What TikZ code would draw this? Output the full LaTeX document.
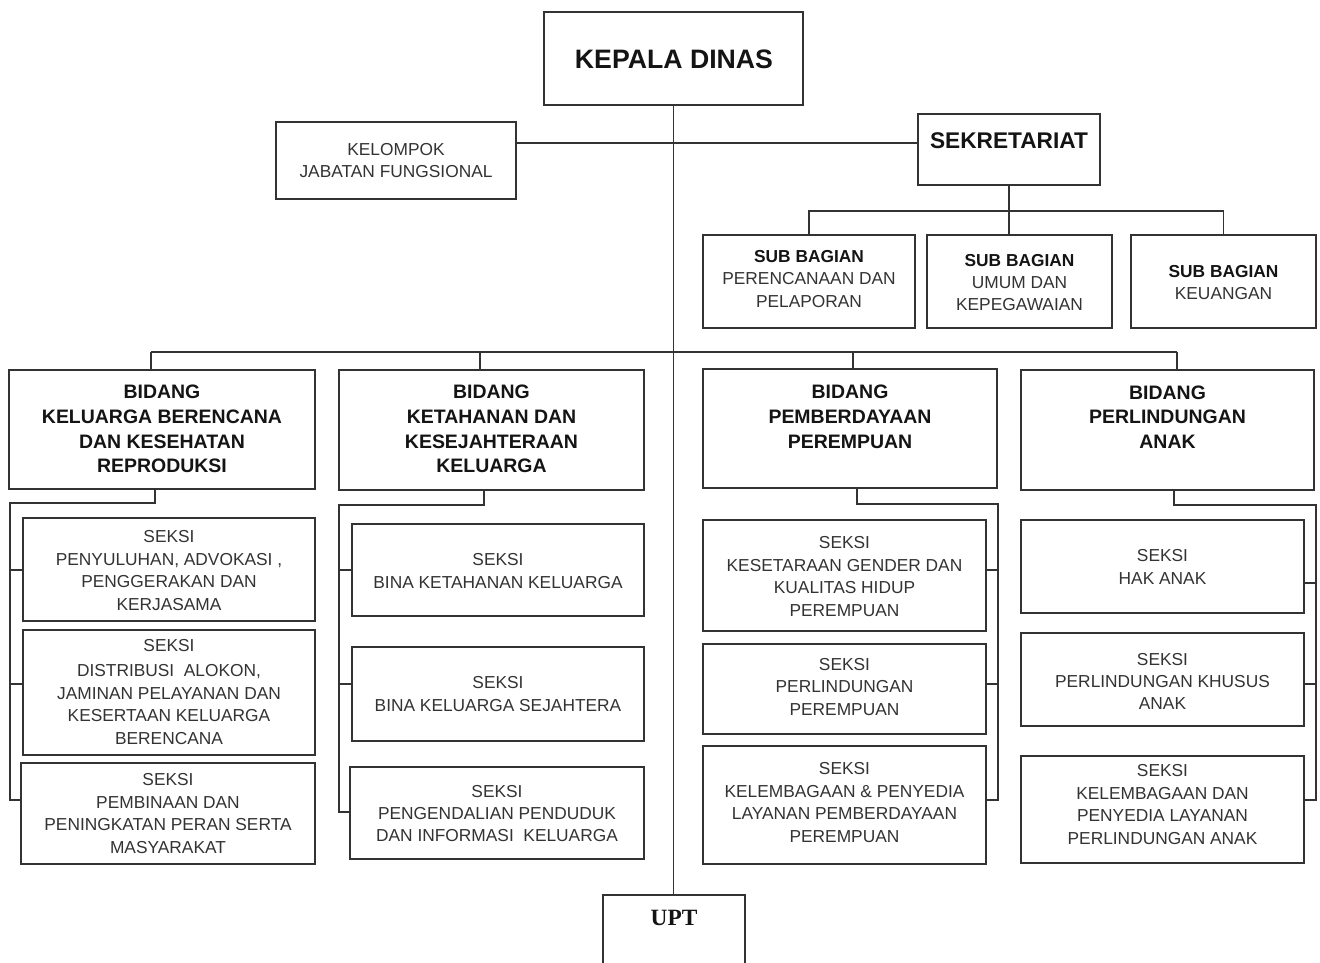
\documentclass[tikz,border=0pt]{standalone}
\usepackage{fontspec}
\setmainfont{Liberation Sans}
\newfontfamily\uptfont{Liberation Serif}
\usetikzlibrary{fit}
\begin{document}
\begin{tikzpicture}[x=0.75pt,y=-0.75pt,
  box/.style={draw=black!80, line width=1.3pt, inner sep=0pt},
  ln/.style={draw=black!80, line width=1.1pt},
  sm/.style={font=\fontsize{13}{16.8}\selectfont, align=center, text=black!80, inner sep=0pt},
  bd/.style={font=\bfseries\fontsize{14.6}{18.6}\selectfont, align=center, text=black!92, inner sep=0pt}]
\useasboundingbox (0,0) rectangle (1320,963);
\fill[white] (0,0) rectangle (1320,963);
\clip (0,0) rectangle (1320,963);

% ---------- boxes ----------
\node[box, fit={(544,12) (803,105)}] (kd) {};
\node[box, fit={(276,122) (516,199)}] (kjf) {};
\node[box, fit={(918,114) (1100,185)}] (sek) {};
\node[box, fit={(703,235) (915,328)}] (sb1) {};
\node[box, fit={(927,235) (1112,328)}] (sb2) {};
\node[box, fit={(1131,235) (1316,328)}] (sb3) {};

\node[box, fit={(9,370) (315,489)}] (b1) {};
\node[box, fit={(339,370) (644,490)}] (b2) {};
\node[box, fit={(703,369) (997,488)}] (b3) {};
\node[box, fit={(1021,370) (1314,490)}] (b4) {};

\node[box, fit={(23,518) (315,621)}] (s1a) {};
\node[box, fit={(23,630) (315,755)}] (s1b) {};
\node[box, fit={(21,763) (315,864)}] (s1c) {};

\node[box, fit={(352,524) (644,616)}] (s2a) {};
\node[box, fit={(352,647) (644,741)}] (s2b) {};
\node[box, fit={(350,767) (644,859)}] (s2c) {};

\node[box, fit={(703,520) (986,631)}] (s3a) {};
\node[box, fit={(703,644) (986,734)}] (s3b) {};
\node[box, fit={(703,746) (986,864)}] (s3c) {};

\node[box, fit={(1021,520) (1304,613)}] (s4a) {};
\node[box, fit={(1021,633) (1304,726)}] (s4b) {};
\node[box, fit={(1021,756) (1304,863)}] (s4c) {};

\node[box, fit={(603,895) (745,985)}] (upt) {};

% ---------- texts ----------
\node[font=\bfseries\fontsize{20}{24}\selectfont, text=black!92, inner sep=0pt] (tkd) at (674,59) {KEPALA DINAS};
\node[sm] (tkjf) at (396,160.5) {KELOMPOK\\JABATAN FUNGSIONAL};
\node[font=\bfseries\fontsize{17}{20}\selectfont, text=black!92, inner sep=0pt] (tsek) at (1009,141) {SEKRETARIAT};
\node[sm] (tsb1) at (809,279) {\textcolor{black!92}{\bfseries SUB BAGIAN}\\PERENCANAAN DAN\\PELAPORAN};
\node[sm] (tsb2) at (1019.5,282.5) {\textcolor{black!92}{\bfseries SUB BAGIAN}\\UMUM DAN\\KEPEGAWAIAN};
\node[sm] (tsb3) at (1223.5,282.5) {\textcolor{black!92}{\bfseries SUB BAGIAN}\\KEUANGAN};

\node[bd] (tb1) at (162,429) {BIDANG\\KELUARGA BERENCANA\\DAN KESEHATAN\\REPRODUKSI};
\node[bd] (tb2) at (491.5,429) {BIDANG\\KETAHANAN DAN\\KESEJAHTERAAN\\KELUARGA};
\node[bd] (tb3) at (850,417) {BIDANG\\PEMBERDAYAAN\\PEREMPUAN};
\node[bd] (tb4) at (1167.5,417) {BIDANG\\PERLINDUNGAN\\ANAK};

\node[sm] (ts1a) at (169,570.5) {SEKSI\\PENYULUHAN, ADVOKASI ,\\PENGGERAKAN DAN\\KERJASAMA};
\node[sm] (ts1b) at (169,692) {SEKSI\\[2pt]DISTRIBUSI\ \ ALOKON,\\JAMINAN PELAYANAN DAN\\KESERTAAN KELUARGA\\BERENCANA};
\node[sm] (ts1c) at (168,813.5) {SEKSI\\PEMBINAAN DAN\\PENINGKATAN PERAN SERTA\\MASYARAKAT};

\node[sm] (ts2a) at (498,571) {SEKSI\\BINA KETAHANAN KELUARGA};
\node[sm] (ts2b) at (498,694) {SEKSI\\BINA KELUARGA SEJAHTERA};
\node[sm] (ts2c) at (497,813.5) {SEKSI\\PENGENDALIAN PENDUDUK\\DAN INFORMASI\ \ KELUARGA};

\node[sm] (ts3a) at (844.5,576.5) {SEKSI\\KESETARAAN GENDER DAN\\KUALITAS HIDUP\\PEREMPUAN};
\node[sm] (ts3b) at (844.5,687) {SEKSI\\PERLINDUNGAN\\PEREMPUAN};
\node[sm] (ts3c) at (844.5,802.5) {SEKSI\\KELEMBAGAAN \& PENYEDIA\\LAYANAN PEMBERDAYAAN\\PEREMPUAN};

\node[sm] (ts4a) at (1162.5,567) {SEKSI\\HAK ANAK};
\node[sm] (ts4b) at (1162.5,681.5) {SEKSI\\PERLINDUNGAN KHUSUS\\ANAK};
\node[sm] (ts4c) at (1162.5,804.5) {SEKSI\\KELEMBAGAAN DAN\\PENYEDIA LAYANAN\\PERLINDUNGAN ANAK};

\node[font=\uptfont\bfseries\fontsize{17.5}{20}\selectfont, text=black!92, inner sep=0pt] (tupt) at (674,918) {UPT};

% ---------- helper coordinates ----------
\coordinate (h1) at (674,143);
\coordinate (hs) at (1009,211);
\coordinate (bus1) at (151,352);
\coordinate (bus2) at (480,352);
\coordinate (bus3) at (853,352);
\coordinate (bus4) at (1177,352);
\coordinate (c1top) at (155,503);
\coordinate (c1bus) at (10,503);
\coordinate (c2top) at (484,505);
\coordinate (c2bus) at (339,505);
\coordinate (c3top) at (857,504);
\coordinate (c3bus) at (998,504);
\coordinate (c4top) at (1174,505);
\coordinate (c4bus) at (1316,505);
\coordinate (y570) at (0,570);
\coordinate (y583) at (0,583);
\coordinate (y684) at (0,684);
\coordinate (y800) at (0,800);
\coordinate (y812) at (0,812);

% ---------- connectors ----------
\draw[ln] (kd.south) -- (kd.south |- upt.north);
\draw[ln] (kjf.east |- h1) -- (sek.west |- h1);
\draw[ln] (sek.south) -- (sek.south |- sb2.north);
\draw[ln] (sb1.north) -- (sb1.north |- hs) -- (sb3.north |- hs) -- (sb3.north);

\draw[ln] (bus1) -- (bus4);
\draw[ln] (bus1) -- (bus1 |- b1.north);
\draw[ln] (bus2) -- (bus2 |- b2.north);
\draw[ln] (bus3) -- (bus3 |- b3.north);
\draw[ln] (bus4) -- (bus4 |- b4.north);

% column 1
\draw[ln] (c1top |- b1.south) -- (c1top) -- (c1bus) -- (c1bus |- y800) -- (s1c.west |- y800);
\draw[ln] (c1bus |- y570) -- (s1a.west |- y570);
\draw[ln] (c1bus |- y684) -- (s1b.west |- y684);
% column 2
\draw[ln] (c2top |- b2.south) -- (c2top) -- (c2bus) -- (c2bus |- y812) -- (s2c.west |- y812);
\draw[ln] (c2bus |- y570) -- (s2a.west |- y570);
\draw[ln] (c2bus |- y684) -- (s2b.west |- y684);
% column 3
\draw[ln] (c3top |- b3.south) -- (c3top) -- (c3bus) -- (c3bus |- y800) -- (s3c.east |- y800);
\draw[ln] (c3bus |- y570) -- (s3a.east |- y570);
\draw[ln] (c3bus |- y684) -- (s3b.east |- y684);
% column 4
\draw[ln] (c4top |- b4.south) -- (c4top) -- (c4bus) -- (c4bus |- y800) -- (s4c.east |- y800);
\draw[ln] (c4bus |- y583) -- (s4a.east |- y583);
\draw[ln] (c4bus |- y684) -- (s4b.east |- y684);
\end{tikzpicture}
\end{document}
